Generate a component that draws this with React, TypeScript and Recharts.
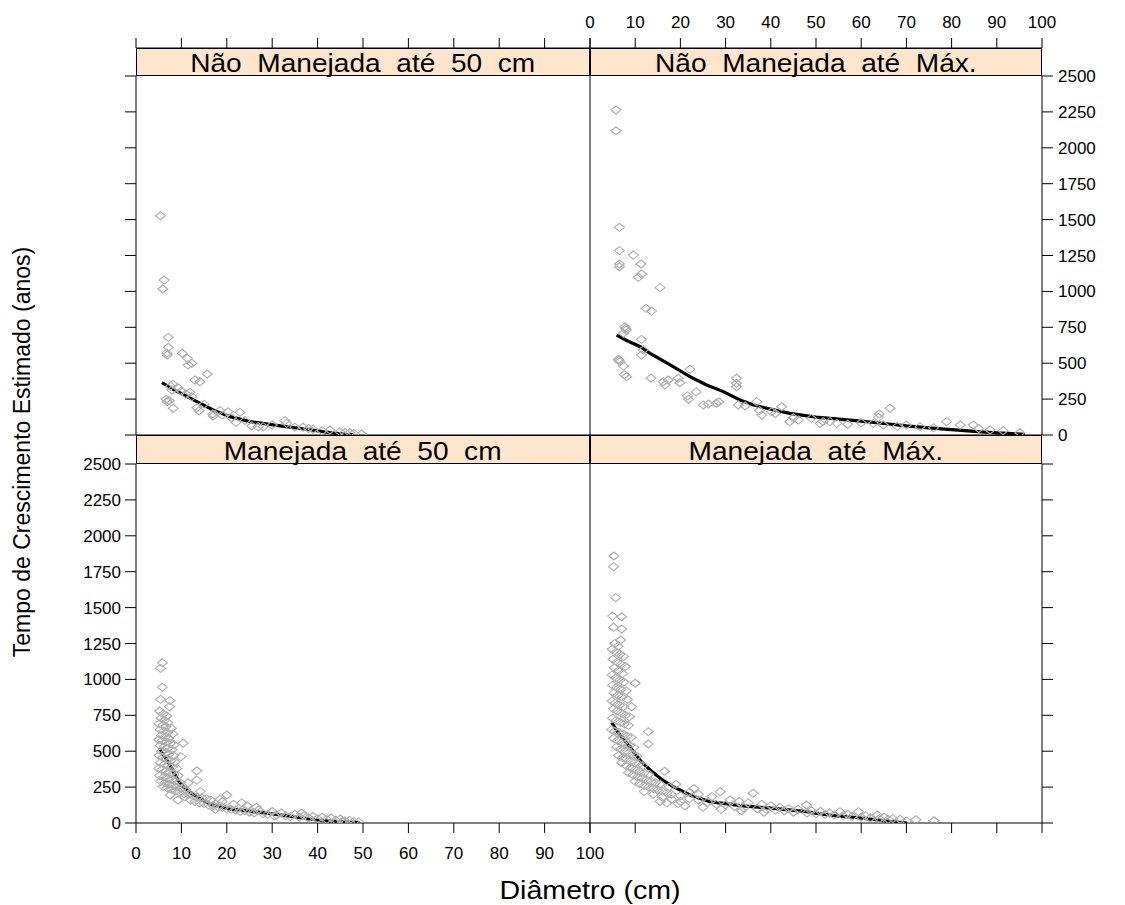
import React from 'react';
import { ComposedChart, Scatter, Line, XAxis, YAxis } from 'recharts';

const W = 1125;
const H = 905;

const X_TICKS = [0, 10, 20, 30, 40, 50, 60, 70, 80, 90, 100];
const Y_TICKS = [0, 250, 500, 750, 1000, 1250, 1500, 1750, 2000, 2250, 2500];
const X_DOMAIN: [number, number] = [0, 100];
const Y_DOMAIN: [number, number] = [0, 2500];

const PANEL_TITLES = [
  'Não  Manejada  até  50  cm',
  'Não  Manejada  até  Máx.',
  'Manejada  até  50  cm',
  'Manejada  até  Máx.',
];
const X_TITLE = 'Diâmetro (cm)';
const Y_TITLE = 'Tempo de Crescimento Estimado (anos)';

// Não Manejada até 50 cm : [diâmetro, anos]
const nm50Points: [number, number][] = [
  [5.4, 1527], [6.2, 1079], [5.9, 1017], [7.1, 680], [7.1, 611], [6.9, 557], [6.8, 570], [10.2, 569],
  [11.3, 534], [12.3, 499], [11.5, 487], [15.7, 425], [13.0, 383], [14.1, 371], [8.2, 353], [7.6, 340],
  [7.9, 313], [9.2, 330], [10.0, 305], [11.9, 297], [12.3, 267], [11.0, 285], [6.6, 249], [6.9, 232],
  [7.3, 240], [8.2, 186], [13.9, 169], [13.4, 190], [16.9, 146], [17.0, 132], [18.5, 170], [20.3, 162],
  [22.9, 158], [22.0, 88], [21.0, 120], [24.0, 100], [25.5, 63], [26.9, 58], [28.0, 58], [30.0, 70],
  [32.8, 100], [33.2, 81], [35.0, 55], [36.8, 54], [38.0, 45], [39.0, 40], [41.0, 30], [42.7, 35],
  [44.9, 23], [46.0, 18], [47.1, 16], [48.0, 10], [49.7, 7], [15.0, 215], [19.0, 140],
];
const nm50Curve: [number, number][] = [
  [5.7, 364], [8.2, 318], [10.8, 275], [13.4, 232], [17.0, 174], [20.7, 128], [25.1, 93], [31.7, 63],
  [37.6, 40], [42.7, 16], [46.4, 5], [48.0, 2],
];

// Não Manejada até Máx.
const nmMaxPoints: [number, number][] = [
  [5.75, 2263], [5.75, 2119], [6.5, 1446], [6.5, 1284], [6.5, 1191], [6.5, 1172], [9.6, 1253], [11.3, 1191],
  [11.4, 1121], [10.7, 1098], [15.5, 1026], [12.4, 882], [13.6, 863], [7.7, 754], [8.0, 731], [7.4, 708],
  [7.9, 742], [11.4, 666], [11.8, 592], [11.4, 557], [6.3, 527], [6.6, 511], [7.4, 480], [6.4, 520],
  [8.1, 406], [7.6, 420], [13.5, 395], [16.2, 371], [16.6, 348], [17.3, 383], [19.5, 395], [19.9, 364],
  [22.1, 457], [21.6, 272], [21.8, 249], [25.1, 209], [26.2, 216], [27.9, 221], [32.4, 395], [32.4, 360],
  [32.4, 336], [32.8, 209], [34.3, 202], [36.9, 232], [38.0, 139], [40.2, 162], [42.4, 197], [44.2, 93],
  [46.1, 104], [49.0, 116], [50.9, 81], [53.1, 93], [54.6, 81], [51.6, 93], [57.0, 75], [60.0, 85],
  [62.7, 81], [63.8, 123], [64.0, 146], [66.4, 186], [64.9, 70], [68.0, 60], [70.0, 70], [73.0, 58],
  [76.0, 50], [78.9, 93], [81.9, 70], [84.8, 70], [86.0, 45], [88.5, 35], [91.4, 30], [95.1, 16],
  [37.5, 170], [41.0, 150], [45.0, 120], [28.5, 230], [23.5, 300],
];
const nmMaxCurve: [number, number][] = [
  [5.9, 696], [8.0, 660], [11.1, 615], [13.3, 569], [16.0, 520], [18.4, 476], [22.1, 406], [25.8, 348],
  [29.5, 302], [33.2, 244], [36.0, 210], [39.1, 186], [44.2, 151], [50.0, 125], [55.0, 110], [60.0, 97],
  [65.0, 80], [70.0, 63], [75.0, 50], [80.0, 37], [85.0, 25], [90.0, 15], [96.2, 5],
];

// Manejada até 50 cm
const m50Points: [number, number][] = [
  [5.8, 1116], [5.4, 1077], [5.8, 945], [5.4, 861], [7.5, 852], [7.4, 810], [5.2, 780], [6.0, 760],
  [6.8, 745], [5.5, 730], [6.3, 715], [7.0, 700], [5.1, 690], [5.9, 680], [6.6, 670], [7.8, 660],
  [5.3, 650], [6.1, 640], [6.9, 630], [8.1, 620], [5.6, 610], [6.4, 600], [7.2, 590], [5.0, 580],
  [5.8, 575], [6.7, 565], [7.6, 555], [8.4, 545], [10.4, 555], [5.3, 540], [6.2, 530], [7.0, 520],
  [7.9, 510], [5.6, 500], [6.5, 490], [7.3, 480], [8.2, 470], [9.9, 462], [5.1, 470], [5.9, 455],
  [6.8, 445], [7.7, 435], [8.6, 425], [5.4, 420], [6.3, 410], [7.1, 400], [8.0, 390], [9.0, 380],
  [5.0, 380], [5.7, 370], [13.4, 364], [6.6, 360], [7.5, 350], [8.4, 340], [9.3, 330], [5.2, 330],
  [6.1, 320], [7.0, 310], [7.9, 300], [13.4, 299], [8.8, 290], [9.7, 280], [5.5, 290], [6.4, 280],
  [7.3, 270], [8.2, 260], [9.1, 250], [10.0, 240], [11.0, 230], [6.0, 255], [6.9, 245], [7.8, 235],
  [8.7, 225], [9.6, 215], [10.6, 205], [11.5, 200], [7.5, 195], [12.5, 190], [13.5, 180], [14.5, 175],
  [15.5, 170], [16.5, 160], [12.0, 160], [13.0, 150], [14.0, 140], [15.0, 135], [16.0, 125], [17.0, 120],
  [18.0, 115], [19.0, 110], [20.0, 195], [19.0, 150], [20.0, 100], [21.0, 95], [22.0, 90], [23.3, 140],
  [23.0, 80], [24.0, 85], [25.0, 75], [26.0, 70], [27.0, 90], [28.0, 65], [29.0, 60], [30.0, 80],
  [31.0, 55], [32.0, 70], [33.0, 50], [34.0, 45], [35.0, 60], [36.0, 40], [37.0, 50], [38.0, 35],
  [39.0, 45], [40.0, 30], [41.0, 40], [42.0, 25], [43.0, 35], [44.0, 20], [45.0, 28], [46.0, 15],
  [47.0, 20], [48.0, 10], [49.0, 8], [17.5, 95], [21.5, 130], [26.5, 110], [11.5, 280], [10.8, 180],
  [9.2, 160], [14.2, 220], [18.5, 165], [24.5, 120], [30.5, 50], [36.5, 70], [45.5, 12],
];
const m50Curve: [number, number][] = [
  [5.1, 520], [6.3, 460], [7.5, 404], [8.6, 335], [9.7, 276], [11.5, 220], [13.4, 183], [15.2, 150],
  [17.0, 125], [20.7, 97], [24.4, 86], [28.0, 72], [31.7, 56], [35.4, 40], [39.8, 21], [44.1, 9], [49.2, 2],
];

// Manejada até Máx.
const mMaxPoints: [number, number][] = [
  [5.3, 1859], [5.2, 1785], [5.7, 1569], [5.0, 1441], [7.0, 1436], [5.2, 1363], [7.0, 1351], [6.8, 1274],
  [5.5, 1250], [6.2, 1230], [4.9, 1210], [5.8, 1190], [6.6, 1175], [7.4, 1160], [5.1, 1140], [6.0, 1120],
  [6.9, 1105], [7.8, 1090], [5.4, 1080], [6.3, 1060], [7.2, 1040], [4.9, 1030], [5.7, 1010], [6.6, 995],
  [7.5, 980], [10.0, 973], [5.0, 960], [5.9, 945], [6.8, 930], [8.0, 920], [5.3, 905], [6.2, 890],
  [7.1, 875], [8.3, 860], [4.9, 850], [5.6, 835], [6.5, 820], [7.4, 810], [9.2, 810], [5.2, 795],
  [6.0, 780], [6.9, 765], [7.8, 750], [8.7, 740], [5.0, 730], [5.8, 715], [6.7, 700], [7.6, 690],
  [8.5, 680], [4.8, 650], [5.5, 640], [6.4, 630], [12.9, 636], [7.3, 620], [8.2, 605], [9.1, 595],
  [5.2, 590], [6.1, 575], [7.0, 560], [7.9, 550], [12.9, 550], [8.8, 540], [9.7, 525], [5.9, 530],
  [6.8, 515], [7.7, 500], [8.6, 490], [9.5, 475], [10.4, 465], [6.3, 470], [7.2, 455], [8.1, 445],
  [9.0, 430], [9.9, 420], [10.8, 410], [11.7, 400], [7.0, 420], [8.0, 400], [9.0, 385], [10.0, 370],
  [11.0, 360], [12.0, 350], [13.0, 340], [8.5, 350], [9.5, 335], [10.5, 320], [11.5, 310], [12.5, 300],
  [13.5, 290], [14.5, 280], [15.5, 270], [16.5, 360], [17.5, 250], [10.0, 290], [11.0, 275], [12.0, 260],
  [13.0, 250], [14.0, 240], [15.0, 230], [16.0, 220], [17.0, 210], [18.0, 200], [19.0, 270], [20.0, 190],
  [12.0, 220], [14.0, 200], [16.0, 180], [18.0, 165], [20.0, 150], [22.0, 170], [22.0, 215], [24.0, 160],
  [24.0, 200], [26.0, 145], [27.0, 185], [28.0, 130], [28.8, 218], [30.0, 125], [31.0, 160], [32.0, 115],
  [33.0, 150], [34.0, 105], [35.0, 140], [36.1, 207], [37.0, 100], [38.0, 130], [39.0, 95], [40.0, 120],
  [41.0, 90], [42.0, 110], [43.0, 85], [44.0, 100], [45.0, 75], [46.0, 95], [47.9, 125], [48.0, 70],
  [49.0, 85], [50.0, 65], [51.0, 80], [52.0, 60], [53.0, 70], [54.0, 55], [55.3, 79], [56.0, 50],
  [57.0, 60], [58.0, 45], [59.4, 79], [60.0, 40], [61.0, 50], [62.0, 35], [63.6, 56], [64.0, 30],
  [65.0, 40], [66.0, 25], [67.0, 30], [68.6, 26], [70.0, 15], [72.1, 23], [76.1, 16], [21.0, 120],
  [25.0, 110], [29.0, 95], [33.5, 85], [38.5, 75], [19.5, 135], [23.0, 240], [15.5, 150], [17.0, 140],
];
const mMaxCurve: [number, number][] = [
  [4.8, 699], [6.0, 640], [8.8, 531], [11.0, 440], [13.3, 369], [16.0, 300], [18.4, 253], [22.1, 195],
  [26.5, 148], [30.0, 135], [33.2, 121], [40.6, 102], [47.9, 79], [50.9, 63], [54.6, 49], [58.3, 40],
  [62.0, 27], [65.7, 14], [70.1, 0],
];

const rows = (a: [number, number][]) => a.map(([d, v]) => ({ d, v }));

// layout (pixels)
const COL = [136, 590, 1042];
const TOP_STRIP = 48;
const TOP_PLOT = 76;
const MID = 435;
const BOT_PLOT = 464;
const BOTTOM = 823;
const FONT = '"Liberation Sans", Arial, sans-serif';
const AX_W = 60;
const AX_H = 40;
const TICK_H = 11; // horizontal tick length
const TICK_V = 10; // vertical tick length

// draws the tick mark itself and (optionally) its label, from the axis-line point it is given
const AxisTick = (props: any) => {
  const { x, y, payload, side, mark, label } = props;
  const txt = String(payload?.value ?? '');
  const textProps = { fill: '#000', fontSize: 17, fontFamily: FONT };
  if (side === 'bottom') {
    return (
      <g>
        {mark && <line x1={x} y1={y} x2={x} y2={y + TICK_V} stroke="#000" strokeWidth={1} />}
        {label && <text x={x} y={y + 36} textAnchor="middle" {...textProps}>{txt}</text>}
      </g>
    );
  }
  if (side === 'top') {
    return (
      <g>
        {mark && <line x1={x} y1={y} x2={x} y2={y - TICK_V} stroke="#000" strokeWidth={1} />}
        {label && <text x={x} y={y - 20} textAnchor="middle" {...textProps}>{txt}</text>}
      </g>
    );
  }
  if (side === 'left') {
    return (
      <g>
        {mark && <line x1={x - TICK_H} y1={y} x2={x} y2={y} stroke="#000" strokeWidth={1} />}
        {label && <text x={x - TICK_H - 4} y={y + 6} textAnchor="end" {...textProps}>{txt}</text>}
      </g>
    );
  }
  return (
    <g>
      {mark && <line x1={x} y1={y} x2={x + TICK_H} y2={y} stroke="#000" strokeWidth={1} />}
      {label && <text x={x + TICK_H + 5} y={y + 6} textAnchor="start" {...textProps}>{txt}</text>}
    </g>
  );
};

const Diamond = (props: any) => {
  const { cx, cy } = props;
  if (cx == null || cy == null) return null;
  return (
    <path
      d={`M${cx},${cy - 4}L${cx + 5},${cy}L${cx},${cy + 4}L${cx - 5},${cy}Z`}
      fill="none"
      stroke="#adadad"
      strokeWidth={1.1}
    />
  );
};

type PanelProps = {
  rect: [number, number, number, number];
  points: [number, number][];
  curve: [number, number][];
  leftTicks: boolean;
  leftLabels: boolean;
  rightAxis: boolean;
  rightLabels: boolean;
  bottomTicks: boolean;
  bottomLabels: boolean;
};

function Panel(p: PanelProps) {
  const [L, T, R, B] = p.rect;
  return (
    <div style={{ position: 'absolute', left: 0, top: 0 }}>
      <ComposedChart
        width={W}
        height={H}
        margin={{ left: L - AX_W, right: W - R - AX_W, top: T, bottom: H - B - AX_H }}
      >
        <XAxis
          xAxisId="b"
          type="number"
          dataKey="d"
          domain={X_DOMAIN}
          ticks={X_TICKS}
          interval={0}
          orientation="bottom"
          height={AX_H}
          stroke="#000"
          tickLine={false}
          tickSize={0}
          tickMargin={0}
          tick={<AxisTick side="bottom" mark={p.bottomTicks} label={p.bottomLabels} />}
          allowDataOverflow
        />
        <YAxis
          yAxisId="l"
          type="number"
          dataKey="v"
          domain={Y_DOMAIN}
          ticks={Y_TICKS}
          interval={0}
          orientation="left"
          width={AX_W}
          stroke="#000"
          tickLine={false}
          tickSize={0}
          tickMargin={0}
          tick={<AxisTick side="left" mark={p.leftTicks} label={p.leftLabels} />}
          allowDataOverflow
        />
        <YAxis
          yAxisId="r"
          type="number"
          domain={Y_DOMAIN}
          ticks={Y_TICKS}
          interval={0}
          orientation="right"
          width={AX_W}
          stroke="#000"
          axisLine={p.rightAxis}
          tickLine={false}
          tickSize={0}
          tickMargin={0}
          tick={<AxisTick side="right" mark={p.rightAxis} label={p.rightLabels} />}
          allowDataOverflow
        />
        <Scatter
          xAxisId="b"
          yAxisId="l"
          data={rows(p.points)}
          dataKey="v"
          shape={Diamond}
          isAnimationActive={false}
        />
        <Line
          xAxisId="b"
          yAxisId="l"
          data={rows(p.curve)}
          dataKey="v"
          type="linear"
          stroke="#000"
          strokeWidth={3.2}
          dot={false}
          activeDot={false}
          isAnimationActive={false}
        />
      </ComposedChart>
    </div>
  );
}

function Strip({ L, T, R, B, title, topTicks, topLabels }: any) {
  return (
    <>
      <div
        style={{
          position: 'absolute',
          left: L,
          top: T,
          width: R - L,
          height: B - T,
          background: '#FFE5CC',
          border: '1px solid #000',
          boxSizing: 'border-box',
          display: 'flex',
          alignItems: 'center',
          justifyContent: 'center',
          color: '#000',
        }}
      >
        <span
          style={{
            fontSize: 26,
            whiteSpace: 'pre',
            lineHeight: '26px',
            display: 'inline-block',
            transform: 'scaleX(1.08)',
            paddingTop: 2,
          }}
        >
          {title}
        </span>
      </div>
      {topTicks && (
        <div style={{ position: 'absolute', left: 0, top: 0 }}>
          <ComposedChart
            width={W}
            height={H}
            data={[{ d: 0 }, { d: 100 }]}
            margin={{ left: L, right: W - R, top: T - AX_H, bottom: H - B }}
          >
            <XAxis
              type="number"
              dataKey="d"
              domain={X_DOMAIN}
              ticks={X_TICKS}
              interval={0}
              orientation="top"
              height={AX_H}
              stroke="#000"
              tickLine={false}
              tickSize={0}
              tickMargin={0}
              tick={<AxisTick side="top" mark label={topLabels} />}
              allowDataOverflow
            />
            <YAxis hide type="number" domain={[0, 1]} width={0} allowDataOverflow />
          </ComposedChart>
        </div>
      )}
    </>
  );
}

export default function App() {
  return (
    <div
      style={{
        position: 'absolute',
        left: 0,
        top: 0,
        width: W,
        height: H,
        background: '#fff',
        fontFamily: FONT,
        overflow: 'hidden',
      }}
    >
      <Panel
        rect={[COL[0], TOP_PLOT, COL[1], MID]}
        points={nm50Points}
        curve={nm50Curve}
        leftTicks
        leftLabels={false}
        rightAxis={false}
        rightLabels={false}
        bottomTicks={false}
        bottomLabels={false}
      />
      <Panel
        rect={[COL[1], TOP_PLOT, COL[2], MID]}
        points={nmMaxPoints}
        curve={nmMaxCurve}
        leftTicks={false}
        leftLabels={false}
        rightAxis
        rightLabels
        bottomTicks={false}
        bottomLabels={false}
      />
      <Panel
        rect={[COL[0], BOT_PLOT, COL[1], BOTTOM]}
        points={m50Points}
        curve={m50Curve}
        leftTicks
        leftLabels
        rightAxis={false}
        rightLabels={false}
        bottomTicks
        bottomLabels
      />
      <Panel
        rect={[COL[1], BOT_PLOT, COL[2], BOTTOM]}
        points={mMaxPoints}
        curve={mMaxCurve}
        leftTicks={false}
        leftLabels={false}
        rightAxis
        rightLabels={false}
        bottomTicks
        bottomLabels={false}
      />
      <Strip L={COL[0]} T={TOP_STRIP} R={COL[1]} B={TOP_PLOT} title={PANEL_TITLES[0]} topTicks topLabels={false} />
      <Strip L={COL[1]} T={TOP_STRIP} R={COL[2]} B={TOP_PLOT} title={PANEL_TITLES[1]} topTicks topLabels />
      <Strip L={COL[0]} T={MID} R={COL[1]} B={BOT_PLOT} title={PANEL_TITLES[2]} />
      <Strip L={COL[1]} T={MID} R={COL[2]} B={BOT_PLOT} title={PANEL_TITLES[3]} />
      <div
        style={{
          position: 'absolute',
          left: 590,
          top: 890,
          transform: 'translate(-50%, -50%) scaleX(1.1)',
          fontSize: 26,
          whiteSpace: 'nowrap',
          color: '#000',
        }}
      >
        {X_TITLE}
      </div>
      <div
        style={{
          position: 'absolute',
          left: 22,
          top: 452,
          transform: 'translate(-50%, -50%) rotate(-90deg)',
          fontSize: 23,
          whiteSpace: 'nowrap',
          color: '#000',
        }}
      >
        {Y_TITLE}
      </div>
    </div>
  );
}
